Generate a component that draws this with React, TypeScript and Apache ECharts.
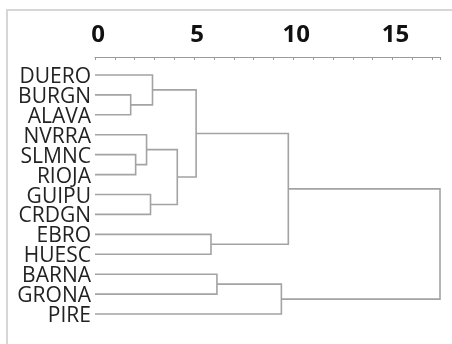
import React, { useEffect, useRef } from "react";
import * as echarts from "echarts";

const leaves = ["DUERO", "BURGN", "ALAVA", "NVRRA", "SLMNC", "RIOJA", "GUIPU", "CRDGN", "EBRO", "HUESC", "BARNA", "GRONA", "PIRE"];
// merges: cluster ids 0..12 are leaves, 13+ are merged clusters in order
const mergeLeft = [1, 4, 3, 6, 0, 15, 17, 8, 10, 21, 19, 23];
const mergeRight = [2, 5, 14, 7, 13, 16, 18, 9, 11, 12, 20, 22];
const mergeHeight = [1.8, 2.05, 2.6, 2.8, 2.9, 4.15, 5.1, 5.85, 6.15, 9.4, 9.75, 17.4];
const tickValues = [0, 5, 10, 15];

export default function App() {
  const ref = useRef<HTMLDivElement>(null);
  useEffect(() => {
    if (!ref.current) return;
    const chart = echarts.init(ref.current, null, { renderer: "svg" });
    const nodeY: number[] = leaves.map((_, i) => i);
    const nodeH: number[] = leaves.map(() => 0);
    const linkData: number[][] = [];
    mergeLeft.forEach((a, k) => {
      const b = mergeRight[k];
      const h = mergeHeight[k];
      linkData.push([nodeH[a], nodeY[a], nodeH[b], nodeY[b], h]);
      nodeY.push((nodeY[a] + nodeY[b]) / 2);
      nodeH.push(h);
    });
    const maxH = mergeHeight[mergeHeight.length - 1];
    const lineColor = "#a3a3a3";
    chart.setOption({
      animation: false,
      grid: { left: 95, right: 12, top: 65, height: 259 },
      xAxis: {
        type: "value",
        position: "top",
        offset: 8,
        min: 0,
        max: maxH,
        interval: 5,
        axisLine: { show: true, onZero: false, lineStyle: { color: "#9a9a9a", width: 1 } },
        axisTick: { show: true, inside: true, length: 3, lineStyle: { color: "#9a9a9a" } },
        minorTick: { show: true, splitNumber: 5, length: 3, lineStyle: { color: "#9a9a9a" } },
        splitLine: { show: false },
        axisLabel: {
          show: true,
          margin: 13,
          fontSize: 24,
          fontWeight: "bold",
          fontFamily: "Open Sans",
          color: "#111",
          lineHeight: 24,
          padding: [0, 0, 0, 6],
          showMaxLabel: false,
          formatter: (v: number) => (tickValues.includes(v) ? String(v) : ""),
        },
      },
      yAxis: [
        {
          type: "category",
          data: leaves,
          inverse: true,
          axisLine: { show: false },
          axisTick: { show: false },
          axisLabel: {
            interval: 0,
            margin: 4,
            fontSize: 21,
            lineHeight: 16,
            padding: [2, 0, 0, 0],
            fontFamily: "Open Sans",
            color: "#222",
          },
        },
        {
          type: "value",
          min: -0.5,
          max: leaves.length - 0.5,
          inverse: true,
          show: false,
          splitLine: { show: false },
        },
      ],
      graphic: [
        {
          type: "rect",
          shape: { x: 7, y: 10, width: 470, height: 360 },
          style: { fill: "none", stroke: "#d6d6d6", lineWidth: 2 },
          silent: true,
        },
      ],
      series: [
        {
          type: "custom",
          yAxisIndex: 1,
          data: linkData,
          renderItem: (params: any, api: any) => {
            const hA = api.value(0), yA = api.value(1), hB = api.value(2), yB = api.value(3), h = api.value(4);
            const p1 = api.coord([hA, yA]);
            const p2 = api.coord([h, yA]);
            const p3 = api.coord([h, yB]);
            const p4 = api.coord([hB, yB]);
            return {
              type: "polyline",
              shape: { points: [p1, p2, p3, p4] },
              style: { stroke: lineColor, lineWidth: 1.6, fill: "none" },
            };
          },
        },
      ],
    });
    return () => chart.dispose();
  }, []);
  return <div ref={ref} style={{ position: "fixed", left: 0, top: 0, width: 452, height: 344 }} />;
}
